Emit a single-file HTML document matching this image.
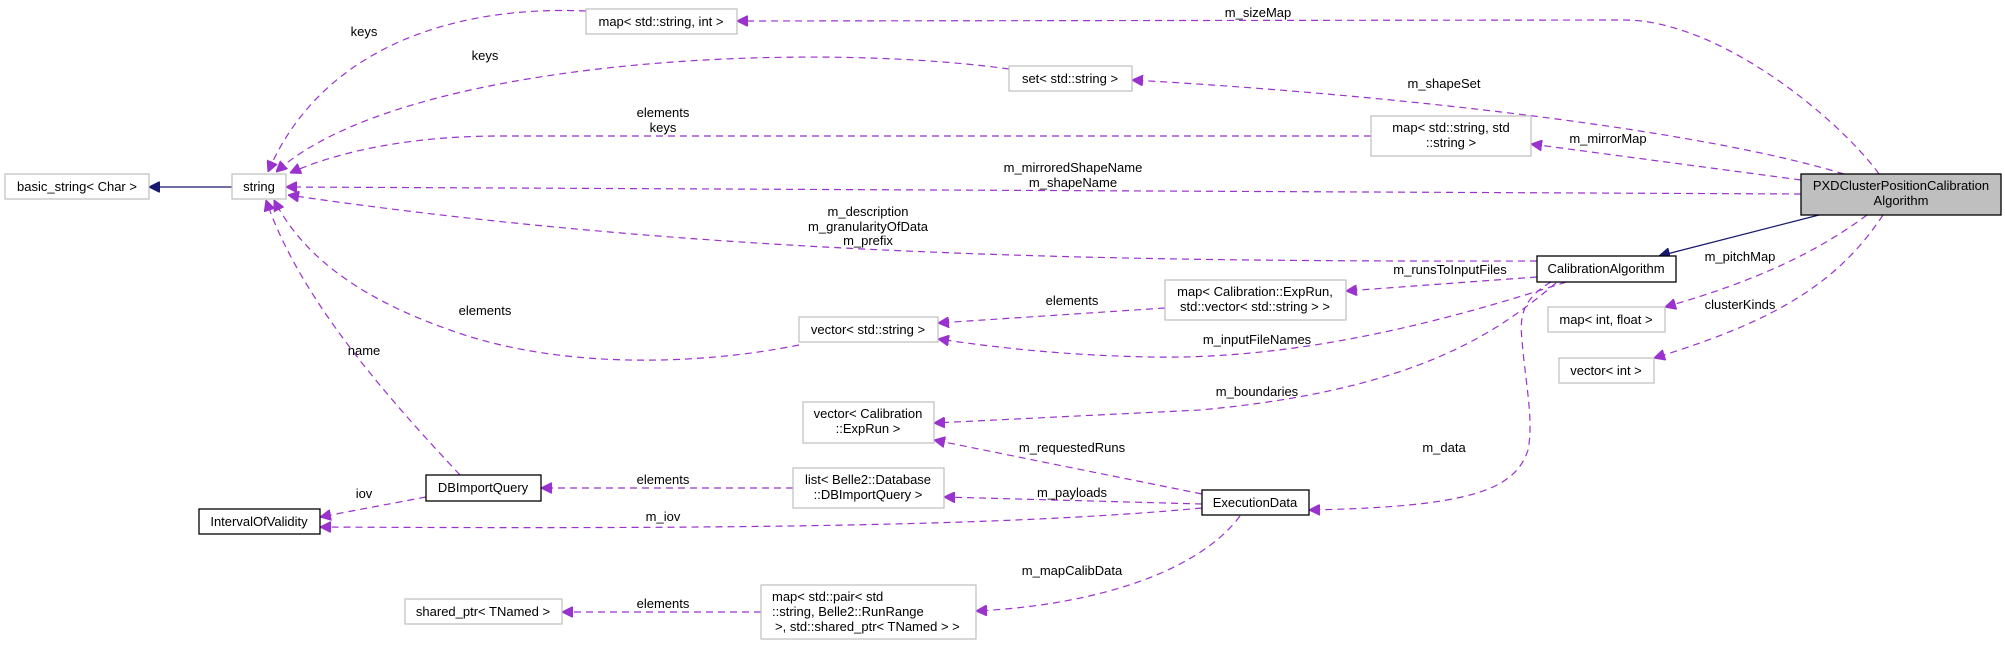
<!DOCTYPE html>
<html><head><meta charset="utf-8"><style>
html,body{margin:0;padding:0;background:#fff;}
svg{display:block;}
text{font-family:"Liberation Sans",Helvetica,Arial,sans-serif;font-size:13px;fill:#000;}
.b{fill:#fff;stroke:#bfbfbf;stroke-width:1.2;}
.k{fill:#fff;stroke:#000;stroke-width:1.3;}
.e{fill:none;stroke:#9a32cd;stroke-width:1.2;stroke-dasharray:7,5;}
.s{fill:none;stroke:#191970;stroke-width:1.3;}
</style></head><body>
<svg width="2005" height="645" viewBox="0 0 2005 645" xmlns="http://www.w3.org/2000/svg">
<defs>
<marker id="p" viewBox="0 0 10 10" refX="10" refY="5" markerWidth="11" markerHeight="11" markerUnits="userSpaceOnUse" orient="auto"><path d="M0,0 L10,5 L0,10 z" fill="#9a32cd" stroke="#9a32cd"/></marker>
<marker id="n" viewBox="0 0 10 10" refX="10" refY="5" markerWidth="11" markerHeight="11" markerUnits="userSpaceOnUse" orient="auto"><path d="M0,0 L10,5 L0,10 z" fill="#191970" stroke="#191970"/></marker>
</defs>

<!-- edges -->
<path class="e" marker-end="url(#p)" d="M1879,174 C1840,120 1720,20 1624,20 L737,21"/>
<path class="e" marker-end="url(#p)" d="M1844,174 C1700,130 1400,95 1132,80"/>
<path class="e" marker-end="url(#p)" d="M1801,180 L1531,144"/>
<path class="e" marker-end="url(#p)" d="M1801,194 L286,187"/>
<path class="e" marker-end="url(#p)" d="M1537,261 C1100,262 700,255 288,195"/>
<path class="e" marker-end="url(#p)" d="M1371,136 L500,136 C400,136 330,155 290,173"/>
<path class="e" marker-end="url(#p)" d="M1009,69 C800,40 400,60 276,172"/>
<path class="e" marker-end="url(#p)" d="M586,11 C450,5 320,50 268,172"/>
<path class="e" marker-end="url(#p)" d="M799,345 C700,365 560,370 450,330 C350,295 300,250 274,200"/>
<path class="e" marker-end="url(#p)" d="M460,475 C390,400 300,300 266,200"/>
<path class="e" marker-end="url(#p)" d="M1165,308 L938,323"/>
<path class="e" marker-end="url(#p)" d="M1537,277 L1346,291"/>
<path class="e" marker-end="url(#p)" d="M1566,282 C1450,320 1300,360 1150,357 C1050,355 980,345 938,339"/>
<path class="e" marker-end="url(#p)" d="M1556,283 C1500,330 1420,390 1200,410 L934,423"/>
<path class="e" marker-end="url(#p)" d="M1202,494 L934,440"/>
<path class="e" marker-end="url(#p)" d="M1202,504 L944,497"/>
<path class="e" marker-end="url(#p)" d="M1202,508 C1000,527 700,529 320,527"/>
<path class="e" marker-end="url(#p)" d="M1240,516 C1200,570 1100,605 976,611"/>
<path class="e" marker-end="url(#p)" d="M1551,282 C1520,300 1520,320 1522,340 C1525,380 1534,420 1528,450 C1515,490 1470,507 1309,510"/>
<path class="e" marker-end="url(#p)" d="M426,497 L320,517"/>
<path class="e" marker-end="url(#p)" d="M793,488 L541,488"/>
<path class="e" marker-end="url(#p)" d="M761,612 L562,612"/>
<path class="e" marker-end="url(#p)" d="M1867,215 C1820,250 1760,280 1665,307"/>
<path class="e" marker-end="url(#p)" d="M1883,215 C1840,280 1780,320 1654,358"/>
<path class="s" marker-end="url(#n)" d="M232,187 L149,187"/>
<path class="s" marker-end="url(#n)" d="M1819,215 L1659,256"/>

<!-- nodes -->
<rect class="b" x="5" y="174" width="144" height="25"/><text x="77" y="191" text-anchor="middle">basic_string&lt; Char &gt;</text>
<rect class="b" x="232" y="174" width="54" height="25"/><text x="259" y="191" text-anchor="middle">string</text>
<rect class="b" x="586" y="9" width="151" height="25"/><text x="661" y="26" text-anchor="middle">map&lt; std::string, int &gt;</text>
<rect class="b" x="1009" y="66" width="123" height="25"/><text x="1070" y="83" text-anchor="middle">set&lt; std::string &gt;</text>
<rect class="b" x="1371" y="116" width="160" height="40"/><text x="1451" y="132" text-anchor="middle">map&lt; std::string, std</text><text x="1451" y="147" text-anchor="middle">::string &gt;</text>
<rect x="1801" y="174" width="200" height="41" fill="#bfbfbf" stroke="#000" stroke-width="1.3"/><text x="1901" y="190" text-anchor="middle">PXDClusterPositionCalibration</text><text x="1901" y="205" text-anchor="middle">Algorithm</text>
<rect class="k" x="1537" y="256" width="139" height="26"/><text x="1606" y="273" text-anchor="middle">CalibrationAlgorithm</text>
<rect class="b" x="1165" y="280" width="181" height="40"/><text x="1255" y="296" text-anchor="middle">map&lt; Calibration::ExpRun,</text><text x="1255" y="311" text-anchor="middle">std::vector&lt; std::string &gt; &gt;</text>
<rect class="b" x="799" y="317" width="139" height="25"/><text x="868" y="334" text-anchor="middle">vector&lt; std::string &gt;</text>
<rect class="b" x="1548" y="307" width="117" height="25"/><text x="1606" y="324" text-anchor="middle">map&lt; int, float &gt;</text>
<rect class="b" x="1559" y="358" width="95" height="25"/><text x="1606" y="375" text-anchor="middle">vector&lt; int &gt;</text>
<rect class="b" x="803" y="402" width="131" height="41"/><text x="868" y="418" text-anchor="middle">vector&lt; Calibration</text><text x="868" y="433" text-anchor="middle">::ExpRun &gt;</text>
<rect class="b" x="793" y="468" width="151" height="40"/><text x="868" y="484" text-anchor="middle">list&lt; Belle2::Database</text><text x="868" y="499" text-anchor="middle">::DBImportQuery &gt;</text>
<rect class="k" x="1202" y="490" width="107" height="25"/><text x="1255" y="507" text-anchor="middle">ExecutionData</text>
<rect class="k" x="426" y="475" width="115" height="26"/><text x="483" y="492" text-anchor="middle">DBImportQuery</text>
<rect class="k" x="199" y="509" width="121" height="25"/><text x="259" y="526" text-anchor="middle">IntervalOfValidity</text>
<rect class="b" x="761" y="585" width="215" height="54"/><text x="772" y="601">map&lt; std::pair&lt; std</text><text x="772" y="616">::string, Belle2::RunRange</text><text x="775" y="631">&gt;, std::shared_ptr&lt; TNamed &gt; &gt;</text>
<rect class="b" x="405" y="599" width="157" height="25"/><text x="483" y="616" text-anchor="middle">shared_ptr&lt; TNamed &gt;</text>

<!-- edge labels -->
<g text-anchor="middle">
<text x="1258" y="17">m_sizeMap</text>
<text x="1444" y="88">m_shapeSet</text>
<text x="1608" y="143">m_mirrorMap</text>
<text x="1073" y="172">m_mirroredShapeName</text>
<text x="1073" y="187">m_shapeName</text>
<text x="868" y="216">m_description</text>
<text x="868" y="231">m_granularityOfData</text>
<text x="868" y="245">m_prefix</text>
<text x="364" y="36">keys</text>
<text x="485" y="60">keys</text>
<text x="663" y="117">elements</text>
<text x="663" y="132">keys</text>
<text x="485" y="315">elements</text>
<text x="364" y="355">name</text>
<text x="364" y="498">iov</text>
<text x="663" y="484">elements</text>
<text x="663" y="521">m_iov</text>
<text x="663" y="608">elements</text>
<text x="1072" y="305">elements</text>
<text x="1450" y="274">m_runsToInputFiles</text>
<text x="1257" y="344">m_inputFileNames</text>
<text x="1257" y="396">m_boundaries</text>
<text x="1072" y="452">m_requestedRuns</text>
<text x="1072" y="497">m_payloads</text>
<text x="1072" y="575">m_mapCalibData</text>
<text x="1444" y="452">m_data</text>
<text x="1740" y="261">m_pitchMap</text>
<text x="1740" y="309">clusterKinds</text>
</g>
</svg>
</body></html>
